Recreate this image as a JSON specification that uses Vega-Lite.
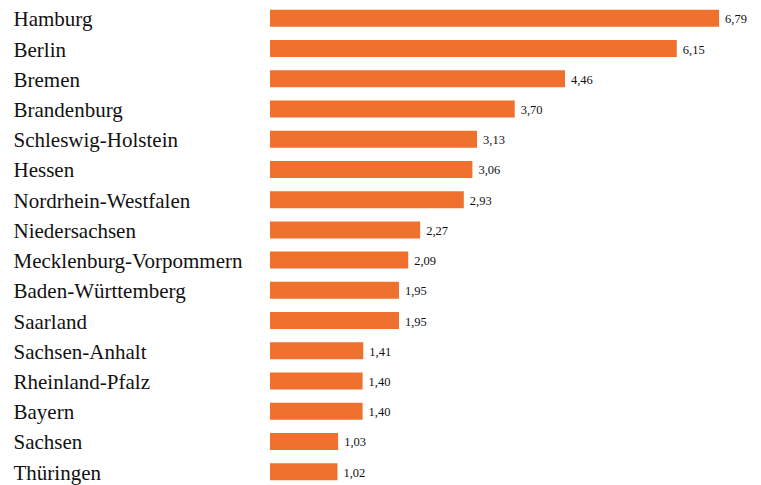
{
  "$schema": "https://vega.github.io/schema/vega-lite/v6.json",
  "autosize": "none",
  "width": 463,
  "height": 490,
  "padding": {"left": 270, "top": 0, "right": 28, "bottom": 0},
  "background": "white",
  "config": {
    "view": {"stroke": null},
    "locale": {"number": {"decimal": ",", "thousands": ".", "grouping": [3], "currency": ["", " €"]}},
    "font": "Liberation Serif"
  },
  "data": {
    "values": [
      {"land": "Hamburg", "wert": 6.79},
      {"land": "Berlin", "wert": 6.15},
      {"land": "Bremen", "wert": 4.46},
      {"land": "Brandenburg", "wert": 3.70},
      {"land": "Schleswig-Holstein", "wert": 3.13},
      {"land": "Hessen", "wert": 3.06},
      {"land": "Nordrhein-Westfalen", "wert": 2.93},
      {"land": "Niedersachsen", "wert": 2.27},
      {"land": "Mecklenburg-Vorpommern", "wert": 2.09},
      {"land": "Baden-Württemberg", "wert": 1.95},
      {"land": "Saarland", "wert": 1.95},
      {"land": "Sachsen-Anhalt", "wert": 1.41},
      {"land": "Rheinland-Pfalz", "wert": 1.40},
      {"land": "Bayern", "wert": 1.40},
      {"land": "Sachsen", "wert": 1.03},
      {"land": "Thüringen", "wert": 1.02}
    ]
  },
  "encoding": {
    "y": {
      "field": "land", "type": "nominal", "sort": null,
      "scale": {"paddingInner": 0.438, "paddingOuter": 0.324},
      "axis": {
        "title": null, "domain": false, "ticks": false,
        "labelAlign": "left", "labelPadding": 257, "labelFontSize": 21,
        "labelColor": "#111111", "labelFont": "Liberation Serif", "labelLimit": 300,
        "labelOffset": 2
      }
    },
    "x": {
      "field": "wert", "type": "quantitative",
      "scale": {"domain": [0, 7], "nice": false, "zero": true},
      "axis": null
    }
  },
  "layer": [
    {"mark": {"type": "bar", "color": "#EF712D"}},
    {
      "mark": {"type": "text", "align": "left", "baseline": "middle", "dx": 6, "dy": 1, "fontSize": 12.5, "color": "#111111", "font": "Liberation Serif"},
      "encoding": {"text": {"field": "wert", "type": "quantitative", "format": ".2f"}}
    }
  ]
}
